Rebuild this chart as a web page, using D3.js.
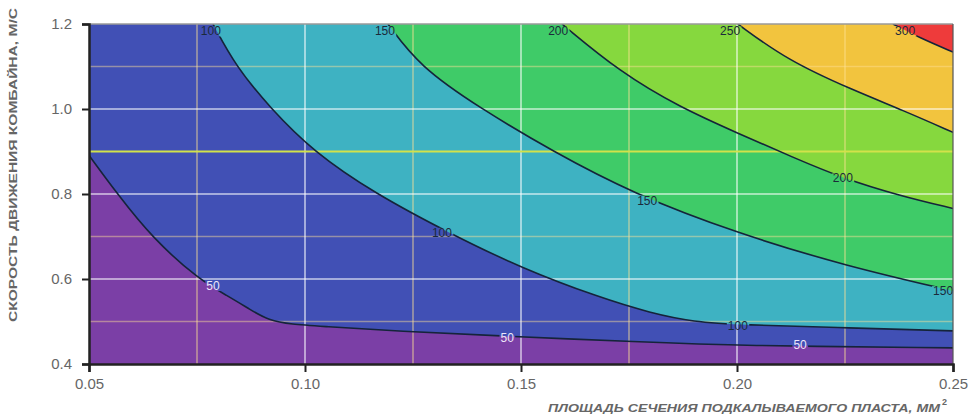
<!DOCTYPE html>
<html><head><meta charset="utf-8">
<script src="https://cdn.jsdelivr.net/npm/d3@7"></script>
<style>body{margin:0;background:#fff;}svg{display:block;}</style>
</head><body>
<script>
// ---- data ----
const xTicks = [0.05, 0.10, 0.15, 0.20, 0.25];
const yTicks = [0.4, 0.6, 0.8, 1.0, 1.2];
const xMinorGrid = [0.075, 0.125, 0.175, 0.225];
const yMinorGrid = [0.5, 0.7, 1.1];
const yHighlight = [0.9];
const levels = [50, 100, 150, 200, 250, 300];
const bandColors = ["#7B3FA6", "#4150B5", "#3EB2C2", "#3FCB68", "#86D83E", "#F2C43E", "#EE3B3B"];

const contour50 = [[0.05,0.891],[0.0565,0.801],[0.0646,0.697],[0.0755,0.598],[0.082,0.561],[0.0875,0.527],[0.0915,0.503],[0.097,0.493],[0.1035,0.489],[0.122,0.477],[0.145,0.466],[0.1775,0.452],[0.200,0.443],[0.25,0.438]];
const contour100 = [[0.0787,1.2],[0.0840,1.100],[0.0920,1.002],[0.1019,0.900],[0.1162,0.801],[0.1336,0.707],[0.1502,0.625],[0.1683,0.556],[0.1800,0.520],[0.1900,0.499],[0.2007,0.492],[0.2262,0.485],[0.25,0.478]];
const contour150 = [[0.1192,1.2],[0.1265,1.100],[0.1405,1.002],[0.1574,0.900],[0.1759,0.801],[0.2002,0.707],[0.2255,0.630],[0.25,0.572]];
const contour200 = [[0.1595,1.2],[0.1729,1.087],[0.1868,1.004],[0.2002,0.943],[0.213,0.886],[0.2245,0.837],[0.2377,0.796],[0.25,0.766]];
const contour250 = [[0.2002,1.2],[0.2116,1.115],[0.2269,1.044],[0.2384,0.997],[0.25,0.945]];
const contour300 = [[0.2361,1.2],[0.2424,1.167],[0.25,1.134]];
const contours = [contour50, contour100, contour150, contour200, contour250, contour300];

const labelLevels = [50, 50, 50, 100, 100, 100, 150, 150, 150, 200, 200, 250, 300];
const labelX = [0.0787, 0.1468, 0.2146, 0.0782, 0.1317, 0.2002, 0.1185, 0.1792, 0.2477, 0.1586, 0.2245, 0.1984, 0.2389];
const labelY = [0.584, 0.461, 0.445, 1.183, 0.709, 0.490, 1.183, 0.785, 0.572, 1.183, 0.837, 1.183, 1.183];

const xTitle = "ПЛОЩАДЬ СЕЧЕНИЯ ПОДКАЛЫВАЕМОГО ПЛАСТА, ММ";
const yTitle = "СКОРОСТЬ ДВИЖЕНИЯ КОМБАЙНА, М/С";

// ---- layout ----
const W = 970, H = 417;
const m = {left: 89, right: 17, top: 24, bottom: 53};
const x = d3.scaleLinear().domain([0.05, 0.25]).range([m.left, W - m.right]);
const y = d3.scaleLinear().domain([0.4, 1.2]).range([H - m.bottom, m.top]);

const svg = d3.select("body").append("svg").attr("width", W).attr("height", H);
const defs = svg.append("defs");
defs.append("clipPath").attr("id", "plot").append("rect")
  .attr("x", x(0.05)).attr("y", y(1.2)).attr("width", x(0.25) - x(0.05)).attr("height", y(0.4) - y(1.2));

const plot = svg.append("g").attr("clip-path", "url(#plot)");
plot.append("rect").attr("x", x(0.05)).attr("y", y(1.2))
  .attr("width", x(0.25) - x(0.05)).attr("height", y(0.4) - y(1.2)).attr("fill", bandColors[0]);

const line = d3.line().x(d => x(d[0])).y(d => y(d[1])).curve(d3.curveBasis);

contours.forEach((c, i) => {
  const first = c[0];
  const closing = [[0.25, 1.2], [first[0], 1.2]];
  const p = line(c) + closing.map(q => "L" + x(q[0]) + "," + y(q[1])).join("") + "Z";
  plot.append("path").attr("d", p).attr("fill", bandColors[i + 1]);
});

// grid
const grid = plot.append("g");
xMinorGrid.forEach(v => grid.append("line").attr("x1", x(v)).attr("x2", x(v)).attr("y1", y(0.4)).attr("y2", y(1.2))
  .attr("stroke", "rgba(255,225,150,0.55)").attr("stroke-width", 1.5));
yMinorGrid.forEach(v => grid.append("line").attr("y1", y(v)).attr("y2", y(v)).attr("x1", x(0.05)).attr("x2", x(0.25))
  .attr("stroke", "rgba(255,225,150,0.45)").attr("stroke-width", 1.5));
xTicks.slice(1, -1).forEach(v => grid.append("line").attr("x1", x(v)).attr("x2", x(v)).attr("y1", y(0.4)).attr("y2", y(1.2))
  .attr("stroke", "rgba(255,255,255,0.7)").attr("stroke-width", 1.5));
yTicks.slice(1, -1).forEach(v => grid.append("line").attr("y1", y(v)).attr("y2", y(v)).attr("x1", x(0.05)).attr("x2", x(0.25))
  .attr("stroke", "rgba(255,255,255,0.7)").attr("stroke-width", 1.5));
yHighlight.forEach(v => grid.append("line").attr("y1", y(v)).attr("y2", y(v)).attr("x1", x(0.05)).attr("x2", x(0.25))
  .attr("stroke", "#D2E24A").attr("stroke-width", 2));

// labels (drawn first to measure for mask)
const labG = svg.append("g");
const labs = labelLevels.map((lv, i) => labG.append("text")
  .attr("x", x(labelX[i])).attr("y", y(labelY[i])).attr("dy", "0.35em")
  .attr("text-anchor", "middle")
  .attr("font-family", "Liberation Sans Narrow, Arial Narrow, Liberation Sans, sans-serif")
  .attr("font-size", 12)
  .attr("fill", lv === 50 ? "#EDE6FA" : "#1B2A3A")
  .text(lv));

const mask = defs.append("mask").attr("id", "lblmask").attr("maskUnits", "userSpaceOnUse")
  .attr("x", 0).attr("y", 0).attr("width", W).attr("height", H);
mask.append("rect").attr("x", 0).attr("y", 0).attr("width", W).attr("height", H).attr("fill", "white");
labs.forEach(t => {
  const b = t.node().getBBox();
  mask.append("rect").attr("x", b.x - 1).attr("y", b.y + 2).attr("width", b.width + 2).attr("height", b.height - 4).attr("fill", "black");
});

const lines = plot.append("g").attr("mask", "url(#lblmask)");
contours.forEach(c => lines.append("path").attr("d", line(c)).attr("fill", "none")
  .attr("stroke", "#15243A").attr("stroke-width", 1.6));
labG.raise();

// frame
svg.append("line").attr("x1", x(0.05)).attr("x2", x(0.25)).attr("y1", y(1.2)).attr("y2", y(1.2)).attr("stroke", "#9a9a9a").attr("stroke-width", 1.5);
svg.append("line").attr("x1", x(0.25)).attr("x2", x(0.25)).attr("y1", y(1.2)).attr("y2", y(0.4)).attr("stroke", "#555").attr("stroke-width", 1.2);

// axes
const fontAxis = "Liberation Sans, Arial, sans-serif";
const gx = svg.append("g").attr("transform", `translate(0,${y(0.4)})`)
  .call(d3.axisBottom(x).tickValues(xTicks).tickFormat(d3.format(".2f")).tickSize(8).tickPadding(6));
const gy = svg.append("g").attr("transform", `translate(${x(0.05)},0)`)
  .call(d3.axisLeft(y).tickValues(yTicks).tickFormat(d3.format(".1f")).tickSize(7).tickPadding(10));
[gx, gy].forEach(g => {
  g.select(".domain").attr("stroke", "#222").attr("stroke-width", 2.5);
  g.selectAll(".tick line").attr("stroke", "#222").attr("stroke-width", 2);
  g.selectAll(".tick text").attr("fill", "#666").attr("font-family", fontAxis).attr("font-size", 15);
});

// titles
svg.append("text").attr("x", 548).attr("y", 412)
  .attr("font-family", fontAxis).attr("font-size", 11).attr("font-weight", "bold").attr("font-style", "italic")
  .attr("fill", "#666").attr("textLength", 392).attr("lengthAdjust", "spacingAndGlyphs").text(xTitle);
svg.append("text").attr("x", 942).attr("y", 405)
  .attr("font-family", fontAxis).attr("font-size", 9).attr("font-weight", "bold").attr("fill", "#666").text("2");
svg.append("text").attr("transform", "translate(17,322) rotate(-90)")
  .attr("font-family", fontAxis).attr("font-size", 11).attr("font-weight", "bold")
  .attr("fill", "#666").attr("textLength", 314).attr("lengthAdjust", "spacingAndGlyphs").text(yTitle);
</script>
</body></html>
